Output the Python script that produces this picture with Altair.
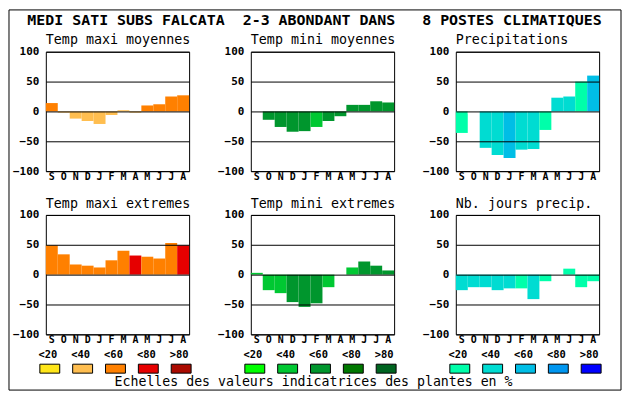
import json
import altair as alt
import pandas as pd

months = ["S", "O", "N", "D", "J", "F", "M", "A", "M", "J", "J", "A"]

NBSP = "\u00a0"
main_title = ("MEDI SATI SUBS FALCATA" + NBSP * 2 + "2-3 ABONDANT DANS" + NBSP * 3
              + "8 POSTES CLIMATIQUES")
footer = "Echelles des valeurs indicatrices des plantes en %"

titles = ["Temp maxi moyennes", "Temp mini moyennes", "Precipitations",
          "Temp maxi extremes", "Temp mini extremes", "Nb. jours precip."]

# values (% deviation) and colour class (1..5, 0 = white)
tmax_moy = [14, -2, -12, -16, -21, -6, 2, -2, 10, 12, 25, 27]
tmax_moy_cls = [3, 2, 2, 2, 2, 2, 2, 2, 3, 3, 3, 3]
tmin_moy = [0, -14, -26, -34, -33, -26, -16, -8, 11, 11, 17, 15]
tmin_moy_cls = [3, 3, 3, 3, 3, 2, 3, 3, 3, 3, 3, 3]
precip = [-36, -4, -61, -73, -78, -64, -63, -31, 23, 25, 50, 60]
precip_cls = [1, 0, 2, 2, 3, 2, 2, 1, 2, 2, 1, 3]
tmax_ext = [49, 34, 17, 15, 12, 24, 40, 32, 30, 27, 53, 49]
tmax_ext_cls = [3, 3, 3, 3, 3, 3, 3, 4, 3, 3, 3, 4]
tmin_ext = [3, -26, -31, -46, -54, -48, -21, 0, 12, 22, 15, 7]
tmin_ext_cls = [2, 2, 2, 3, 3, 3, 2, 2, 2, 3, 3, 3]
nb_jours = [-26, -21, -21, -26, -23, -23, -41, -11, 0, 10, -21, -11]
nb_jours_cls = [2, 2, 2, 2, 2, 1, 2, 1, 1, 1, 1, 1]

legend_labels = ["<20", "<40", "<60", "<80", ">80"]
pal_orange = ["#FFE619", "#FFBE50", "#FF8000", "#E60000", "#AA0A00"]
pal_green = ["#00FF00", "#00C832", "#00962D", "#007800", "#006420"]
pal_blue = ["#00FFAA", "#00DCD2", "#00BEE6", "#0096F0", "#0000FF"]

MONO = "DejaVu Sans Mono"
label_expr = json.dumps(months) + "[datum.value]"


def panel(values, classes, palette, title):
    df = pd.DataFrame({
        "idx": list(range(len(months))),
        "v": values,
        "c": [palette[k - 1] if k > 0 else "#FFFFFF" for k in classes],
    })
    return alt.Chart(df, title=alt.Title(title)).mark_bar().encode(
        x=alt.X("idx:O", scale=alt.Scale(paddingInner=0, paddingOuter=0),
                axis=alt.Axis(labelExpr=label_expr, labelAngle=0, ticks=False,
                              domain=False, title=None, labelPadding=0,
                              labelFontSize=10, grid=False)),
        y=alt.Y("v:Q", scale=alt.Scale(domain=[-100, 100], nice=False),
                axis=alt.Axis(values=[-100, -50, 0, 50, 100], grid=True,
                              gridColor="black", gridWidth=1, ticks=False,
                              domain=False, title=None, labelPadding=7,
                              labelFlush=False, zindex=1)),
        color=alt.Color("c:N", scale=None),
    ).properties(width=144, height=120,
                 view=alt.ViewBackground(stroke="black", strokeWidth=1))


def legend(palette, decor=False):
    df = pd.DataFrame({"lab": legend_labels, "col": palette})
    x = alt.X("lab:N", sort=legend_labels,
              scale=alt.Scale(type="band", range=[-6, 146],
                              paddingInner=0.394, paddingOuter=0),
              axis=None)
    base = alt.Chart(df)
    boxes = base.mark_rect(stroke="black", strokeWidth=1).encode(
        x=x, y=alt.value(-14), y2=alt.value(-5),
        fill=alt.Fill("col:N", scale=None))
    texts = base.mark_text(font=MONO, fontWeight="bold", fontSize=10.5,
                           dx=-2, baseline="middle", color="black").encode(
        x=x, y=alt.value(-23.5), text="lab:N")
    layers = [boxes, texts]
    if decor:
        one = pd.DataFrame({"t": [main_title], "f": [footer]})
        border = alt.Chart(one).mark_rect(fillOpacity=0, stroke="black",
                                          strokeWidth=1).encode(
            x=alt.value(-243), x2=alt.value(372),
            y=alt.value(-370), y2=alt.value(12))
        ttl = alt.Chart(one).mark_text(font=MONO, fontWeight="bold", fontSize=15,
                                       baseline="middle", align="center",
                                       color="black").encode(
            x=alt.value(64), y=alt.value(-360), text="t:N")
        ftr = alt.Chart(one).mark_text(font=MONO, fontSize=13.3,
                                       baseline="middle", align="center",
                                       color="black").encode(
            x=alt.value(63), y=alt.value(4), text="f:N")
        layers += [border, ttl, ftr]
    return alt.layer(*layers).properties(
        width=144, height=1, view=alt.ViewBackground(stroke="transparent"))


p1 = panel(tmax_moy, tmax_moy_cls, pal_orange, titles[0])
p2 = panel(tmin_moy, tmin_moy_cls, pal_green, titles[1])
p3 = panel(precip, precip_cls, pal_blue, titles[2])
p4 = panel(tmax_ext, tmax_ext_cls, pal_orange, titles[3])
p5 = panel(tmin_ext, tmin_ext_cls, pal_green, titles[4])
p6 = panel(nb_jours, nb_jours_cls, pal_blue, titles[5])
l1 = legend(pal_orange)
l2 = legend(pal_green, decor=True)
l3 = legend(pal_blue)

chart = alt.concat(
    p1, p2, p3, p4, p5, p6, l1, l2, l3,
    columns=3,
    spacing=alt.RowColnumber(row=44, column=62),
    bounds="flush",
).properties(
    padding=0, background="white"
).configure_title(
    font=MONO, fontSize=13.4, fontWeight="normal", color="black",
    anchor="start", frame="group", offset=-1
).configure_axis(
    labelFont=MONO, labelFontWeight="bold", labelFontSize=11, labelColor="black"
)

chart.save("out.html", embed_options={"renderer": "svg", "actions": False})
